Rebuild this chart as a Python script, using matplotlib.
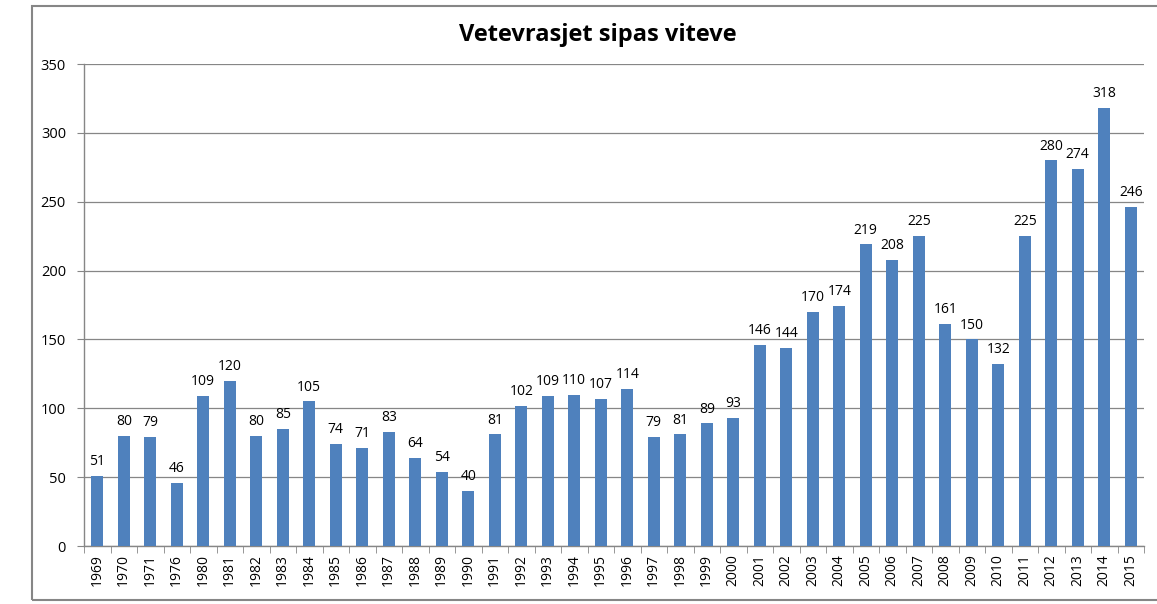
import matplotlib
matplotlib.use("Agg")
import matplotlib.pyplot as plt
from matplotlib.patches import Rectangle
import numpy as np

years = ["1969", "1970", "1971", "1976", "1980", "1981", "1982", "1983", "1984",
         "1985", "1986", "1987", "1988", "1989", "1990", "1991", "1992", "1993",
         "1994", "1995", "1996", "1997", "1998", "1999", "2000", "2001", "2002",
         "2003", "2004", "2005", "2006", "2007", "2008", "2009", "2010", "2011",
         "2012", "2013", "2014", "2015"]
counts = [51, 80, 79, 46, 109, 120, 80, 85, 105, 74, 71, 83, 64, 54, 40, 81, 102,
          109, 110, 107, 114, 79, 81, 89, 93, 146, 144, 170, 174, 219, 208, 225,
          161, 150, 132, 225, 280, 274, 318, 246]
yticks = [0, 50, 100, 150, 200, 250, 300, 350]
title = "Vetevrasjet sipas viteve"

plt.rcParams["font.family"] = ["Open Sans", "DejaVu Sans"]
bar_color = "#4F81BD"
axis_color = "#868686"

fig = plt.figure(figsize=(11.57, 6.04), dpi=100)
ax = fig.add_axes([84 / 1157, 58 / 604, 1060 / 1157, 482 / 604])

x = np.arange(len(years))
ax.bar(x, counts, width=0.45, color=bar_color, zorder=3)
for xi, v in zip(x, counts):
    ax.text(xi, v + 5, str(v), ha="center", va="bottom", fontsize=10, color="black")

ax.set_xlim(-0.5, len(years) - 0.5)
ax.set_ylim(0, 350)
ax.set_yticks(yticks)
ax.set_yticklabels([str(t) for t in yticks], fontsize=10.5)
ax.yaxis.grid(True, color=axis_color, linewidth=0.9, zorder=0)
ax.set_xticks(x)
ax.set_xticklabels(years, rotation=90, fontsize=10)
ax.tick_params(axis="x", length=0, pad=6)
ax.set_xticks(np.arange(-0.5, len(years)), minor=True)
ax.tick_params(axis="x", which="minor", length=5, color=axis_color)
ax.tick_params(axis="y", length=5, color=axis_color, pad=8)

for side in ["top", "right"]:
    ax.spines[side].set_visible(False)
for side in ["left", "bottom"]:
    ax.spines[side].set_color(axis_color)
    ax.spines[side].set_linewidth(1.0)

fig.text(0.517, 1 - 35 / 604, title, ha="center", va="center",
         fontsize=17, fontweight="bold")

# outer chart frame, right edge runs off the picture
fig.patches.append(Rectangle((32 / 1157, 4 / 604), 1.2, 594 / 604,
                             transform=fig.transFigure, fill=False,
                             edgecolor=axis_color, linewidth=1.5))

fig.savefig("out.png", dpi=100)
